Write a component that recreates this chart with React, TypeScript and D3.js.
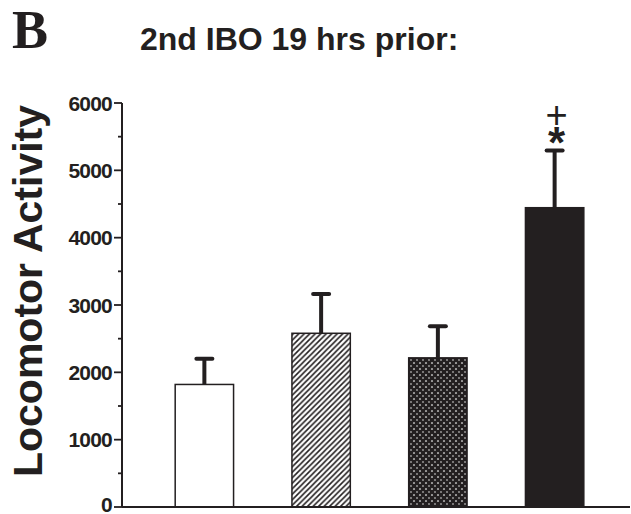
import React from "react";
import * as d3 from "d3";

const categories = ["Control", "Group 2", "Group 3", "Group 4"];
const means = [1820, 2580, 2215, 4445];
const errors = [380, 585, 470, 850];
const patterns = ["none", "hatch", "cross", "solid"];
const yTicks = [0, 1000, 2000, 3000, 4000, 5000, 6000];
const yMinorTicks = [500, 1500, 2500, 3500, 4500, 5500];
const title = "2nd IBO 19 hrs prior:";
const panelLabel = "B";
const yLabel = "Locomotor Activity";

const W = 631;
const H = 514;
const INK = "#231f20";

export default function App() {
  const y = d3.scaleLinear().domain([0, 6000]).range([507, 103]);
  const x = d3
    .scaleBand<string>()
    .domain(categories)
    .range([146, 613])
    .paddingInner(0.5)
    .paddingOuter(0.25);
  const axisX = 122;
  const bw = x.bandwidth();

  const fillFor = (p: string) =>
    p === "hatch" ? "url(#hatch)" : p === "cross" ? "url(#cross)" : p === "solid" ? INK : "#fff";

  const sigCx = x(categories[3])! + bw / 2 + 2;
  const sigTop = y(means[3] + errors[3]);

  return (
    <svg
      width={W}
      height={H}
      viewBox={`0 0 ${W} ${H}`}
      style={{ position: "absolute", left: 0, top: 0, background: "#fff" }}
      fontFamily="'Liberation Sans', Arial, sans-serif"
    >
      <defs>
        <pattern id="hatch" patternUnits="userSpaceOnUse" width={5.5} height={5.5}>
          <rect width={5.5} height={5.5} fill="#fff" />
          <path
            d="M-1,6.5 L6.5,-1 M-1,1 L1,-1 M4.5,6.5 L6.5,4.5"
            stroke={INK}
            strokeWidth={1.6}
          />
        </pattern>
        <pattern id="cross" patternUnits="userSpaceOnUse" width={6} height={6}>
          <rect width={6} height={6} fill="#fff" />
          <path d="M-1,-1 L7,7 M7,-1 L-1,7" stroke={INK} strokeWidth={3} />
        </pattern>
      </defs>

      {/* panel label and title */}
      <text
        x={12}
        y={48}
        fontFamily="'Liberation Serif', 'Times New Roman', serif"
        fontWeight="bold"
        fontSize={54}
        fill={INK}
      >
        {panelLabel}
      </text>
      <text x={140} y={50} fontWeight="bold" fontSize={32} fill={INK}>
        {title}
      </text>

      {/* y-axis label */}
      <text
        transform={`translate(42, 291) rotate(-90)`}
        textAnchor="middle"
        fontWeight="bold"
        fontSize={41}
        fill={INK}
      >
        {yLabel}
      </text>

      {/* bars */}
      {categories.map((c, i) => {
        const x0 = x(c)!;
        const top = y(means[i]);
        return (
          <rect
            key={c}
            x={x0}
            y={top}
            width={bw}
            height={y(0) - top}
            fill={fillFor(patterns[i])}
            stroke={INK}
            strokeWidth={1.5}
          />
        );
      })}

      {/* error bars */}
      {categories.map((c, i) => {
        const cx = x(c)! + bw / 2;
        const top = y(means[i] + errors[i]);
        const base = y(means[i]);
        return (
          <g key={c + "-err"} stroke={INK}>
            <line x1={cx} x2={cx} y1={base} y2={top} strokeWidth={4} />
            <line
              x1={cx - 8}
              x2={cx + 8}
              y1={top}
              y2={top}
              strokeWidth={4}
              strokeLinecap="round"
            />
          </g>
        );
      })}

      {/* significance marks: + above * */}
      <text fill={INK} textAnchor="middle">
        <tspan x={sigCx} y={sigTop - 22} fontSize={38}>
          +
        </tspan>
        <tspan x={sigCx} y={sigTop + 8} fontSize={44} fontWeight="bold">
          *
        </tspan>
      </text>

      {/* axes */}
      <g stroke={INK}>
        <line x1={axisX} x2={axisX} y1={y(6000)} y2={y(0)} strokeWidth={2} />
        <line x1={axisX} x2={630} y1={y(0)} y2={y(0)} strokeWidth={2} />
        {yTicks.map((t) => (
          <line key={t} x1={axisX - 8} x2={axisX} y1={y(t)} y2={y(t)} strokeWidth={1.8} />
        ))}
        {yMinorTicks.map((t) => (
          <line key={t} x1={axisX - 4} x2={axisX} y1={y(t)} y2={y(t)} strokeWidth={1.8} />
        ))}
      </g>
      <g fontWeight="bold" fontSize={21} fill={INK} textAnchor="end">
        {yTicks.map((t) => (
          <text
            key={t}
            x={axisX - 10}
            y={t === 0 ? y(t) - 3 : y(t)}
            dominantBaseline="central"
            letterSpacing={-0.8}
          >
            {t}
          </text>
        ))}
      </g>
    </svg>
  );
}
